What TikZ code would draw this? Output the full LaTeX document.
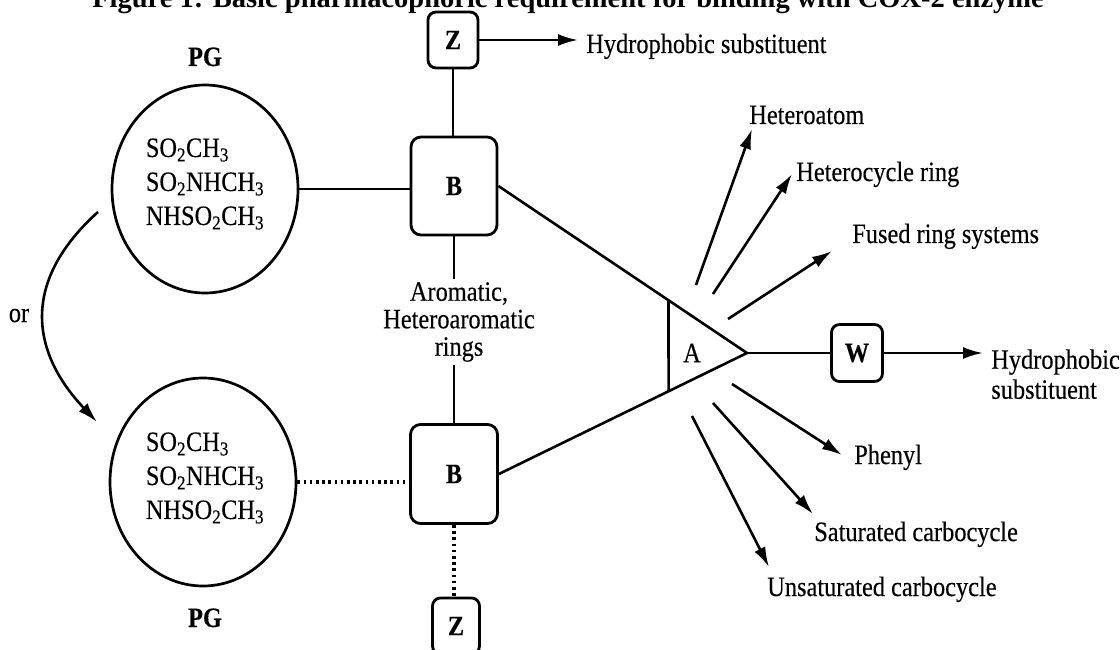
\documentclass[tikz,border=0pt]{standalone}
\usepackage{fontspec}
\setmainfont{Liberation Serif}[FakeStretch=0.87,FakeBold=0.3]
\newfontfamily\titlefont{Liberation Serif}
\usetikzlibrary{arrows.meta,calc,shapes.geometric}
\begin{document}
\begin{tikzpicture}[x=1pt,y=-1pt,line width=2.6pt,
  box/.style={draw,line width=2.8pt,rounded corners=8pt,inner sep=0pt,font=\bfseries\fontsize{28}{30}\selectfont},
  lbl/.style={inner sep=0pt,font=\fontsize{28}{30}\selectfont},
  ring/.style={draw,line width=2.7pt,ellipse,inner sep=0pt,minimum width=186pt,minimum height=208pt},
  arr/.style={-{Latex[length=20pt,width=12pt]}},
  dotline/.style={line width=3.2pt,dash pattern=on 2.6pt off 3.6pt}]
\useasboundingbox (0,0) rectangle (1120,650);
\clip (0,0) rectangle (1120,650);
% title (cut at the top)
\node[anchor=base west,inner sep=0pt,font=\titlefont\bfseries\fontsize{28.5}{30}\selectfont] (title) at (91,7.5)
  {Figure 1: Basic pharmacophoric requirement for binding with COX-2 enzyme};
% boxes
\node[box,minimum width=50pt,minimum height=56pt] (Zt) at (453,40) {Z};
\node[box,rounded corners=10pt,minimum width=86pt,minimum height=98pt] (Bt) at (454,186) {B};
\node[box,rounded corners=10pt,minimum width=87pt,minimum height=99pt] (Bb) at (454,474) {B};
\node[box,minimum width=47pt,minimum height=56pt] (Zb) at (456,626) {Z};
\node[box,minimum width=51pt,minimum height=57pt] (W) at (857,353) {W};
% rings
\node[ring] (C1) at (205,189) {};
\node[ring] (C2) at (203,482) {};
\node[lbl,align=left,font=\fontsize{28}{34}\selectfont] (T1) at (205,184)
  {SO\textsubscript{2}CH\textsubscript{3}\\SO\textsubscript{2}NHCH\textsubscript{3}\\NHSO\textsubscript{2}CH\textsubscript{3}};
\node[lbl,align=left,font=\fontsize{28}{34}\selectfont] (T2) at (205,478)
  {SO\textsubscript{2}CH\textsubscript{3}\\SO\textsubscript{2}NHCH\textsubscript{3}\\NHSO\textsubscript{2}CH\textsubscript{3}};
\node[lbl,anchor=base,font=\bfseries\fontsize{28}{30}\selectfont] (PG1) at (205,66) {PG};
\node[lbl,anchor=base,font=\bfseries\fontsize{28}{30}\selectfont] (PG2) at (205,627) {PG};
\node[lbl,anchor=base] (or) at (19,322) {or};
% aromatic label
\node[lbl,align=center,font=\fontsize{28}{27.5}\selectfont,inner sep=2pt] (arom) at (459,322)
  {Aromatic,\\Heteroaromatic\\rings};
% triangle A
\coordinate (Ap) at (747,353);
\coordinate (A1) at ($(Bt.east)!0.684!(Ap)$);
\coordinate (A2) at ($(Bb.east)!0.684!(Ap)$);
\node[lbl] (A) at (692,353) {A};
% connectors
\draw (Zt.south) -- (Zt.south |- Bt.north);
\draw (C1.east) -- (C1.east -| Bt.west);
\draw[dotline] (C2.east) -- (C2.east -| Bb.west);
\draw (Bt.south) -- (Bt.south |- arom.north);
\draw (arom.south -| Bb.north) -- (Bb.north);
\draw[dotline] (Bb.south) -- (Bb.south |- Zb.north);
\draw (Bt.east) -- (Ap) -- (Bb.east);
\draw (A1) -- (A2);
\draw (Ap) -- (W.west);
% or arrow
\coordinate (or1) at (98,212);
\coordinate (or2) at (97,422);
\draw[arr] (or1) .. controls (23.5,279) and (28,349) .. (or2);
% hydrophobic substituents
\node[lbl,anchor=base west] (hs1) at (585,53) {Hydrophobic substituent};
\coordinate (hs1tip) at (578,40);
\draw[arr] (Zt.east) -- (hs1tip);
\node[lbl,anchor=north west,align=left,font=\fontsize{28}{30}\selectfont] (hs2) at (990,348) {Hydrophobic\\substituent};
\coordinate (hs2tip) at (983,353);
\draw[arr] (W.east) -- (hs2tip);
% fan labels
\node[lbl,anchor=base west] (l1) at (748,124) {Heteroatom};
\node[lbl,anchor=base west] (l2) at (795,181) {Heterocycle ring};
\node[lbl,anchor=base west] (l3) at (851,243) {Fused ring systems};
\node[lbl,anchor=base west] (l4) at (853,464) {Phenyl};
\node[lbl,anchor=base west] (l5) at (813,541) {Saturated carbocycle};
\node[lbl,anchor=base west] (l6) at (766,596) {Unsaturated carbocycle};
% fan arrows
\coordinate (s1) at (696,285); \coordinate (e1) at (752,129);
\coordinate (s2) at (713,294); \coordinate (e2) at (792,174);
\coordinate (s3) at (728,319); \coordinate (e3) at (832,251);
\coordinate (s4) at (732,384); \coordinate (e4) at (842,455);
\coordinate (s5) at (713,403); \coordinate (e5) at (813,514);
\coordinate (s6) at (692,416); \coordinate (e6) at (769,567);
\foreach \i in {1,...,6} {\draw[arr] (s\i) -- (e\i);}
\end{tikzpicture}
\end{document}
